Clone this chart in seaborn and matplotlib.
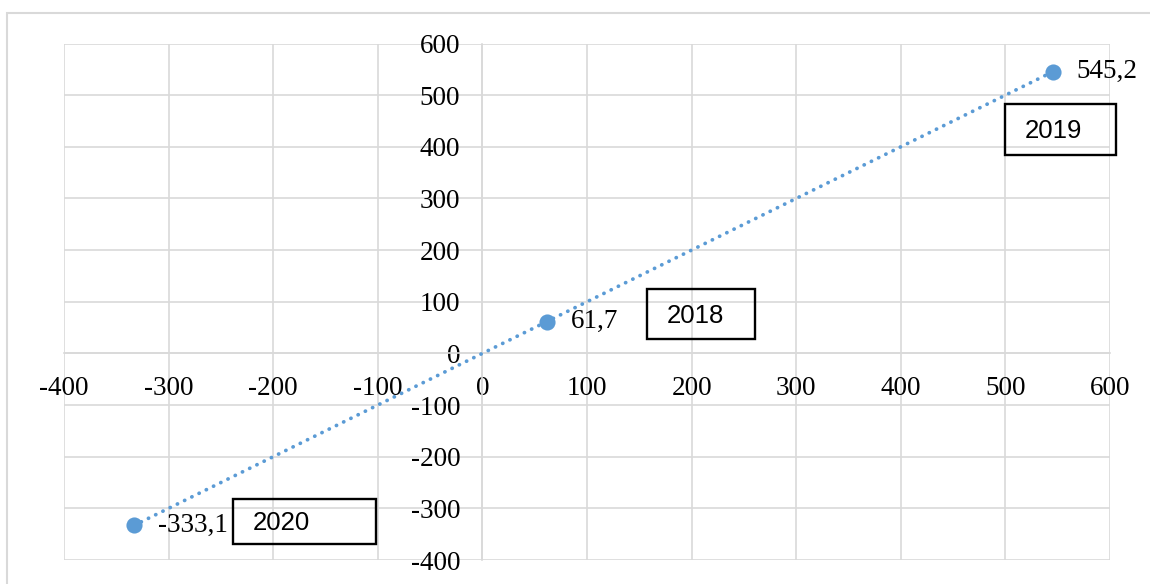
import numpy as np
import matplotlib
matplotlib.use("Agg")
import matplotlib.pyplot as plt
from matplotlib.patches import Rectangle
import seaborn as sns
import pandas as pd

# ---- data ----
years = ["2018", "2019", "2020"]
x_vals = [61.7, 545.2, -333.1]
y_vals = [61.7, 545.2, -333.1]
labels = ["61,7", "545,2", "-333,1"]
ticks = [-400, -300, -200, -100, 0, 100, 200, 300, 400, 500, 600]

sns.set_theme(style="white")
plt.rcParams["font.family"] = ["Liberation Serif", "DejaVu Serif"]

W, H = 1150, 584
fig = plt.figure(figsize=(W / 100, H / 100), dpi=100)
fig.patch.set_facecolor("white")

# outer chart frame (extends beyond canvas at right/bottom)
fig.add_artist(Rectangle((7 / W, -1), 2, 1 - 13 / H + 1, transform=fig.transFigure,
                         fill=False, edgecolor="#D9D9D9", lw=1.5))

ax = fig.add_axes([64 / W, 1 - 560 / H, (1110 - 64) / W, (560 - 43.5) / H])
ax.set_facecolor("white")

blue = "#5B9BD5"
df = pd.DataFrame({"x": x_vals, "y": y_vals, "year": years})

# linear trendline
coef = np.polyfit(df["x"], df["y"], 1)
xs = np.array([min(x_vals), max(x_vals)])
trend = pd.DataFrame({"x": xs, "y": np.polyval(coef, xs)})
sns.lineplot(data=trend, x="x", y="y", ax=ax, color=blue, lw=2.7,
             linestyle=(0, (0.05, 2.1)), dash_capstyle="round", zorder=3)

sns.scatterplot(data=df, x="x", y="y", ax=ax, color=blue, s=135,
                edgecolor=blue, linewidth=0, zorder=4)

for xv, yv, lab in zip(x_vals, y_vals, labels):
    ax.annotate(lab, (xv, yv), xytext=(17, 0), textcoords="offset points",
                ha="left", va="center", fontsize=19.5, color="black", zorder=5)

ax.set_xlim(-400, 600)
ax.set_ylim(-400, 600)
ax.set_xticks(ticks)
ax.set_yticks(ticks)
ax.set_xticklabels([str(t) for t in ticks])
ax.set_yticklabels([str(t) for t in ticks])
ax.set_xlabel("")
ax.set_ylabel("")

ax.grid(True, color="#D9D9D9", lw=1.2)
for ln in ax.get_xgridlines() + ax.get_ygridlines():
    ln.set_clip_on(False)

for s in ["top", "right"]:
    ax.spines[s].set_visible(False)
ax.spines["left"].set_position(("data", 0))
ax.spines["bottom"].set_position(("data", 0))
for s in ["left", "bottom"]:
    ax.spines[s].set_color("#D9D9D9")
    ax.spines[s].set_linewidth(1.2)

ax.tick_params(axis="both", length=0, labelsize=19.5, colors="black")
ax.tick_params(axis="x", pad=16)
ax.tick_params(axis="y", pad=16)

# year text boxes (pixel positions: left, top, right, bottom)
boxes = {"2018": (647, 289, 755, 339), "2019": (1005, 104, 1116, 155),
         "2020": (233, 499, 376, 544)}
for yr in years:
    l, t, r, b = boxes[yr]
    fig.add_artist(Rectangle((l / W, 1 - b / H), (r - l) / W, (b - t) / H,
                             transform=fig.transFigure, fill=False,
                             edgecolor="black", lw=1.7, zorder=10))
    fig.text((l + 20) / W, 1 - ((t + b) / 2 + 2) / H, yr, ha="left", va="center",
             fontsize=18.5, family=["Liberation Sans", "DejaVu Sans"], color="black",
             zorder=11)

fig.savefig("out.png", dpi=100)
